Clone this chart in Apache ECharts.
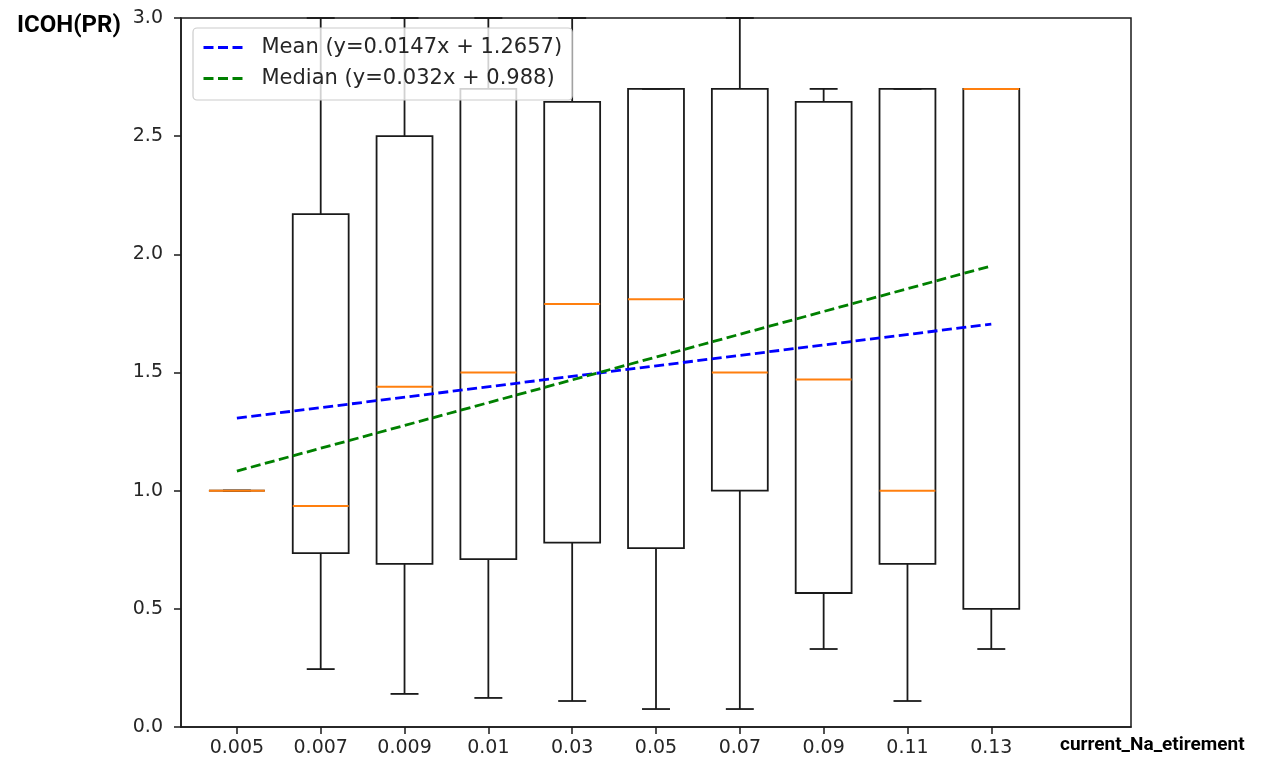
<!DOCTYPE html>
<html><head><meta charset="utf-8">
<script src="https://cdn.jsdelivr.net/npm/echarts@6/dist/echarts.min.js"></script>
<style>html,body{margin:0;padding:0;background:#fff}#c{width:1261px;height:764px}</style>
</head><body><div id="c"></div>
<script>
const categories = ['0.005','0.007','0.009','0.01','0.03','0.05','0.07','0.09','0.11','0.13'];
const whiskerLow  = [1.0, 0.245, 0.14, 0.123, 0.11, 0.076, 0.076, 0.33, 0.11, 0.33];
const q1          = [1.0, 0.736, 0.69, 0.71, 0.78, 0.757, 1.0, 0.567, 0.69, 0.50];
const medians     = [1.0, 0.935, 1.44, 1.50, 1.79, 1.81, 1.50, 1.47, 1.0, 2.70];
const q3          = [1.0, 2.17, 2.50, 2.70, 2.645, 2.70, 2.70, 2.645, 2.70, 2.70];
const whiskerHigh = [1.0, 3.0, 3.0, 3.0, 3.0, 2.70, 3.0, 2.70, 2.70, 2.70];
const trendX = [1, 10];
const meanTrend = [1.307, 1.705];
const medianTrend = [1.083, 1.951];
const meanLabel = 'Mean (y=0.0147x + 1.2657)';
const medianLabel = 'Median (y=0.032x + 0.988)';

const BOX_W = 0.667;
const boxData = categories.map((c, i) => [i + 1, whiskerLow[i], q1[i], medians[i], q3[i], whiskerHigh[i]]);
const positions = categories.map((c, i) => i + 1);

function renderBox(params, api) {
  const x = api.value(0);
  const half = api.size([BOX_W, 0])[0] / 2;
  const cap = half / 2;
  const p = k => api.coord([x, api.value(k)]);
  const lo = p(1), a = p(2), m = p(3), b = p(4), hi = p(5);
  const cx = lo[0];
  const blk = { stroke: '#1a1a1a', lineWidth: 1.8, fill: null };
  return { type: 'group', children: [
    { type: 'line', shape: { x1: cx, y1: lo[1], x2: cx, y2: a[1] }, style: blk },
    { type: 'line', shape: { x1: cx, y1: b[1], x2: cx, y2: hi[1] }, style: blk },
    { type: 'line', shape: { x1: cx - cap, y1: lo[1], x2: cx + cap, y2: lo[1] }, style: blk },
    { type: 'line', shape: { x1: cx - cap, y1: hi[1], x2: cx + cap, y2: hi[1] }, style: blk },
    { type: 'rect', shape: { x: cx - half, y: b[1], width: 2 * half, height: a[1] - b[1] }, style: { stroke: '#1a1a1a', lineWidth: 1.8, fill: 'none' } },
    { type: 'line', shape: { x1: cx - half, y1: m[1], x2: cx + half, y2: m[1] }, style: { stroke: '#ff7f0e', lineWidth: 2 } }
  ]};
}

const chart = echarts.init(document.getElementById('c'), null, { renderer: 'canvas' });
chart.setOption({
  animation: false,
  backgroundColor: '#fff',
  title: [
    { text: 'ICOH(PR)', left: 12, top: 9, textStyle: { fontFamily: 'Roboto', fontWeight: 'bold', fontSize: 24, color: '#000' } },
    { text: 'current_Na_etirement', left: 1055, top: 731, textStyle: { fontFamily: 'Roboto', fontWeight: 'bold', fontSize: 19, color: '#000' } }
  ],
  grid: { left: 181, right: 130, top: 18, bottom: 37, show: true, borderColor: '#1a1a1a', borderWidth: 1.5, backgroundColor: 'transparent' },
  legend: {
    orient: 'vertical', left: 193, top: 28,
    itemWidth: 41, itemHeight: 21, itemGap: 10,
    padding: [9, 10, 11, 9],
    backgroundColor: 'rgba(255,255,255,0.8)', borderColor: '#cccccc', borderWidth: 1.2, borderRadius: 4,
    itemStyle: { opacity: 0 },
    lineStyle: { width: 3 },
    textStyle: { fontFamily: 'DejaVu Sans', fontSize: 21, color: '#262626', padding: [0, 0, 0, 12] },
    data: [meanLabel, medianLabel]
  },
  xAxis: {
    type: 'value', min: 1 / 3, max: 35 / 3,
    axisLine: { show: true, lineStyle: { color: '#1a1a1a', width: 1.5 } },
    axisTick: { show: true, length: 7, lineStyle: { color: '#1a1a1a', width: 1.5 }, customValues: positions },
    axisLabel: { customValues: positions, formatter: v => categories[Math.round(v) - 1], fontFamily: 'DejaVu Sans', fontSize: 19, color: '#262626', margin: 12 },
    splitLine: { show: false }
  },
  yAxis: {
    type: 'value', min: 0, max: 3, interval: 0.5,
    axisLine: { show: true, lineStyle: { color: '#1a1a1a', width: 1.5 } },
    axisTick: { show: true, length: 7, lineStyle: { color: '#1a1a1a', width: 1.5 } },
    axisLabel: { formatter: v => v.toFixed(1), fontFamily: 'DejaVu Sans', fontSize: 19, color: '#262626', margin: 18 },
    splitLine: { show: false }
  },
  series: [
    { type: 'custom', name: 'boxes', renderItem: renderBox, data: boxData, encode: { x: 0, y: [1, 2, 3, 4, 5] }, z: 2 },
    { type: 'line', name: meanLabel, data: trendX.map((x, i) => [x, meanTrend[i]]), symbol: 'none', color: '#0000ff',
      lineStyle: { color: '#0000ff', width: 2.8, type: [10, 4.5] }, z: 3 },
    { type: 'line', name: medianLabel, data: trendX.map((x, i) => [x, medianTrend[i]]), symbol: 'none', color: '#008000',
      lineStyle: { color: '#008000', width: 2.8, type: [10, 4.5] }, z: 3 }
  ]
});
</script>
</body></html>
